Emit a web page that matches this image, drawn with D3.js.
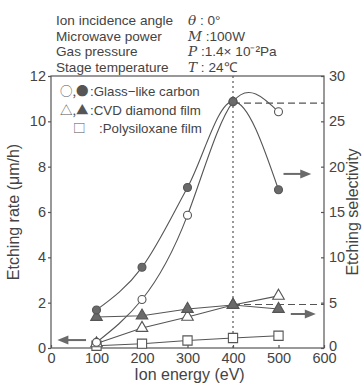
<!DOCTYPE html>
<html>
<head>
<meta charset="utf-8">
<script src="https://cdn.jsdelivr.net/npm/d3@7"></script>
<style>
  body { margin: 0; background: #fff; }
  text { font-family: "Liberation Sans", Arial, sans-serif; fill: #444; }
</style>
</head>
<body>
<div id="chart"></div>
<script>
// ion energy (eV)
let energy = [100, 200, 300, 400, 500];

// etching rate, left axis (um/h)
let carbonRate = [0.25, 2.14, 5.86, 10.86, 10.42];
let diamondRate = [0.2, 0.88, 1.37, 1.9, 2.3];
let siloxaneRate = [0.1, 0.19, 0.33, 0.44, 0.54];

// etching selectivity, right axis
let carbonSel = [4.2, 8.9, 17.7, 27.2, 17.45];
let diamondSel = [3.42, 3.56, 4.3, 4.74, 4.3];

let xTicks = [0, 100, 200, 300, 400, 500, 600];
let leftTicks = [0, 2, 4, 6, 8, 10, 12];
let rightTicks = [0, 5, 10, 15, 20, 25, 30];

let conditions = [
    ["Ion incidence angle", "θ", " : 0°"],
    ["Microwave power", "M", " :100W"],
    ["Gas pressure", "P", " :1.4× 10⁻²Pa"],
    ["Stage temperature", "T", " : 24℃"]
];

let w = 364, h = 385;
let margin = {top: 76, right: 40, bottom: 37, left: 51},
    width = w - margin.left - margin.right,
    height = h - margin.top - margin.bottom;

let ink = "#555", fillGray = "#6a6a6a";
let cjk = "'Noto Sans CJK JP', sans-serif";

let svg = d3.select("#chart").append("svg")
    .attr("width", w)
    .attr("height", h);

// header block with the experiment conditions
let head = svg.append("g").attr("font-size", 13.6);
conditions.forEach(function(c, i) {
    let y = 25 + i * 15.5;
    head.append("text").attr("x", 56).attr("y", y).text(c[0]);
    let t = head.append("text").attr("x", 188).attr("y", y);
    t.append("tspan").style("font-family", "'DejaVu Serif', serif")
        .attr("font-style", "italic").text(c[1]);
    t.append("tspan").text(c[2]);
});

let g = svg.append("g")
    .attr("transform", "translate(" + margin.left + "," + margin.top + ")");

let x = d3.scaleLinear().domain([0, 600]).range([0, width]);
let yL = d3.scaleLinear().domain([0, 12]).range([height, 0]);
let yR = d3.scaleLinear().domain([0, 30]).range([height, 0]);

// frame
g.append("rect").attr("width", width).attr("height", height)
    .attr("fill", "none").attr("stroke", ink).attr("stroke-width", 1.2);

function styleAxis(sel) {
    sel.select(".domain").remove();
    sel.selectAll("line").attr("stroke", ink).attr("stroke-width", 1.2);
    sel.selectAll("text").attr("font-size", 14.5).attr("fill", "#444");
}

g.append("g").attr("transform", "translate(0," + height + ")")
    .call(d3.axisBottom(x).tickValues(xTicks).tickSize(-3).tickPadding(5))
    .call(styleAxis);
g.append("g")
    .call(d3.axisLeft(yL).tickValues(leftTicks).tickSize(3).tickPadding(2))
    .call(styleAxis);
g.append("g").attr("transform", "translate(" + width + ",0)")
    .call(d3.axisRight(yR).tickValues(rightTicks).tickSize(-3).tickPadding(5))
    .call(styleAxis)
    .selectAll("text").attr("dy", function(d) { return d === 0 ? "0.15em" : "0.32em"; });

// axis titles
svg.append("text").attr("x", margin.left + width / 2 + 2).attr("y", 380)
    .attr("text-anchor", "middle").attr("font-size", 16).text("Ion energy (eV)");
svg.append("text")
    .attr("transform", "translate(19," + (margin.top + height / 2) + ") rotate(-90)")
    .attr("text-anchor", "middle").attr("font-size", 16).text("Etching rate (μm/h)");
svg.append("text")
    .attr("transform", "translate(358," + (margin.top + height / 2) + ") rotate(-90)")
    .attr("text-anchor", "middle").attr("font-size", 16).text("Etching selectivity");

// reference lines at 400 eV
g.append("line").attr("x1", x(400)).attr("x2", x(400)).attr("y1", 0).attr("y2", height)
    .attr("stroke", ink).attr("stroke-dasharray", "2,3").attr("stroke-width", 1.2);
g.append("line").attr("x1", x(400)).attr("x2", width)
    .attr("y1", yR(27)).attr("y2", yR(27))
    .attr("stroke", ink).attr("stroke-dasharray", "7,4").attr("stroke-width", 1.2);
g.append("line").attr("x1", x(400)).attr("x2", width)
    .attr("y1", yR(4.8)).attr("y2", yR(4.8))
    .attr("stroke", ink).attr("stroke-dasharray", "7,4").attr("stroke-width", 1.2);

function drawLine(vals, y, curve) {
    let line = d3.line()
        .x(function(d, i) { return x(energy[i]); })
        .y(function(d) { return y(d); })
        .curve(curve);
    g.append("path").datum(vals).attr("d", line)
        .attr("fill", "none").attr("stroke", ink).attr("stroke-width", 1.1);
}

drawLine(carbonRate, yL, d3.curveNatural);
drawLine(carbonSel, yR, d3.curveMonotoneX);
drawLine(diamondRate, yL, d3.curveLinear);
drawLine(diamondSel, yR, d3.curveLinear);
drawLine(siloxaneRate, yL, d3.curveLinear);

let circ = d3.symbol().type(d3.symbolCircle).size(50);
let tri = d3.symbol().type(d3.symbolTriangle).size(58);
let sq = d3.symbol().type(d3.symbolSquare).size(85);

function drawMarks(vals, y, shape, filled) {
    g.append("g").selectAll("path").data(vals).enter().append("path")
        .attr("transform", function(d, i) {
            return "translate(" + x(energy[i]) + "," + y(d) + ")";
        })
        .attr("d", shape())
        .attr("fill", filled ? fillGray : "#fff")
        .attr("stroke", ink).attr("stroke-width", 1.1);
}

drawMarks(siloxaneRate, yL, sq, false);
drawMarks(diamondRate, yL, tri, false);
drawMarks(carbonRate, yL, circ, false);
drawMarks(diamondSel, yR, tri, true);
drawMarks(carbonSel, yR, circ, true);

// arrows showing which axis each set uses
function arrow(x1, x2, y) {
    let dir = x2 > x1 ? 1 : -1;
    g.append("line").attr("x1", x1).attr("x2", x2 - dir * 8).attr("y1", y).attr("y2", y)
        .attr("stroke", fillGray).attr("stroke-width", 2);
    g.append("path")
        .attr("d", "M" + x2 + "," + y + "L" + (x2 - dir * 11) + "," + (y - 4.5) +
            "L" + (x2 - dir * 11) + "," + (y + 4.5) + "Z")
        .attr("fill", fillGray);
}
arrow(x(77), x(14), yL(0.35));
arrow(x(511), x(572), yR(19.2));
arrow(x(527), x(582), yR(3.75));

// legend: symbols, then label
let leg = g.append("g").attr("font-size", 13.3);
let legRows = [
    ["○,●", ":Glass−like carbon", 9, 39, 19.5],
    ["△,▲", ":CVD diamond film", 9, 39, 38.5],
    ["□", ":Polysiloxane film", 22, 48, 57]
];
legRows.forEach(function(r) {
    leg.append("text").attr("x", r[2]).attr("y", r[4])
        .style("font-family", cjk).style("font-size", "12.5px").style("fill", "#555")
        .text(r[0]);
    leg.append("text").attr("x", r[3]).attr("y", r[4]).text(r[1]);
});
</script>
</body>
</html>
